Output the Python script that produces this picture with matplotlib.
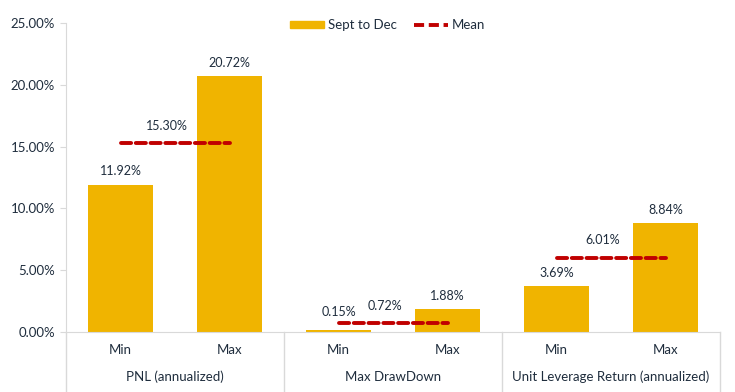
import numpy as np
import matplotlib.pyplot as plt
from matplotlib.lines import Line2D
from matplotlib.patches import Patch
from matplotlib.transforms import blended_transform_factory

plt.rcParams['font.family'] = ['Lato', 'DejaVu Sans']

groups = ['PNL (annualized)', 'Max DrawDown', 'Unit Leverage Return (annualized)']
sub = ['Min', 'Max']
values = [11.92, 20.72, 0.15, 1.88, 3.69, 8.84]
means = [15.30, 0.72, 6.01]

bar_col = '#F0B400'
red = '#C00000'
txt = '#1F2D3D'
grey = '#D9D9D9'
dash = (0, (2.6, 1.2))

fig = plt.figure(figsize=(7.35, 3.92), dpi=100)
ax = fig.add_axes([66/735, 60/392, 654/735, 309/392])

x = np.arange(len(values))
ax.bar(x, values, width=0.59, color=bar_col, zorder=2)
for xi, v in zip(x, values):
    off = 13 if v < 0.5 else 9.5  # tiny bar: label pushed up above the mean line
    ax.annotate('%.2f%%' % v, (xi, v), xytext=(0, off), textcoords='offset points',
                ha='center', va='center', fontsize=9, color=txt)

for g, m in enumerate(means):
    x0, x1 = 2*g, 2*g + 1
    ax.plot([x0, x1], [m, m], color=red, lw=2.8, ls=dash, zorder=3,
            dash_capstyle='round')
    ax.annotate('%.2f%%' % m, ((x0 + x1)/2, m), xytext=(-6, 12.5), textcoords='offset points',
                ha='center', va='center', fontsize=9, color=txt)

ax.set_xlim(-0.5, 5.5)
ax.set_ylim(0, 25)
ax.set_yticks(np.arange(0, 26, 5))
ax.set_yticklabels(['%.2f%%' % t for t in np.arange(0, 26, 5)], fontsize=9.5, color=txt)
ax.set_xticks([])
for s in ['top', 'right']:
    ax.spines[s].set_visible(False)
ax.spines['left'].set_color(grey)
ax.spines['bottom'].set_color(grey)
ax.tick_params(axis='y', length=4, color=grey, pad=4)

# category labels under the axis
tr = blended_transform_factory(ax.transData, ax.transAxes)
for xi in x:
    ax.text(xi, -0.058, sub[xi % 2], transform=tr, ha='center', va='center', fontsize=9.5, color=txt)
for g, name in enumerate(groups):
    ax.text(2*g + 0.5, -0.145, name, transform=tr, ha='center', va='center', fontsize=9.5, color=txt)
for xd in [-0.5, 1.5, 3.5, 5.5]:
    ax.plot([xd, xd], [0, -0.2], transform=tr, color=grey, lw=1, clip_on=False)

handles = [Patch(color=bar_col, label='Sept to Dec'),
           Line2D([], [], color=red, lw=2.8, ls=dash, label='Mean')]
fig.legend(handles=handles, loc='center', bbox_to_anchor=(0.527, 1 - 25/392),
           ncol=2, frameon=False, fontsize=9.5, handlelength=2.6, handleheight=0.5,
           columnspacing=1.3, handletextpad=0.25, labelcolor=txt)

fig.savefig('out.png', dpi=100)
